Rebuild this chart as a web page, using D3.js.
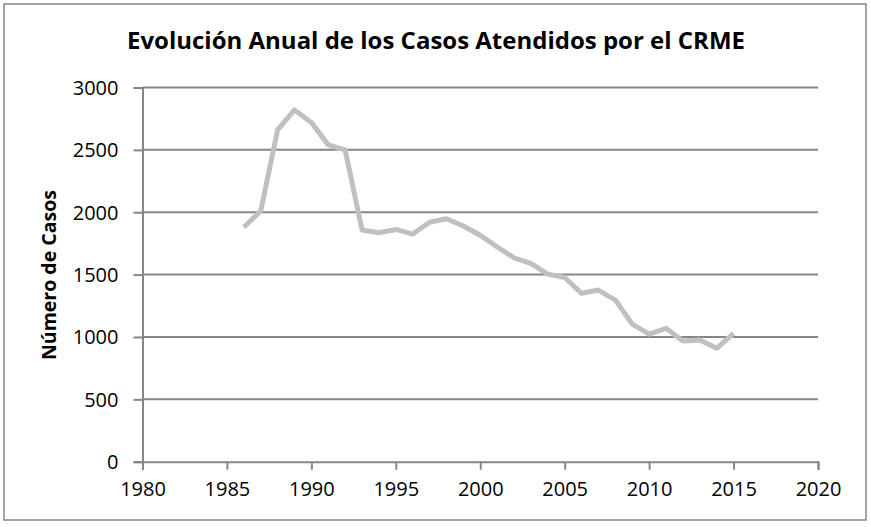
<!DOCTYPE html>
<html>
<head>
<meta charset="utf-8">
<script src="https://cdn.jsdelivr.net/npm/d3@7"></script>
<style>
  body { margin: 0; background: #fff; }
  svg { display: block; }
  text { font-family: "Open Sans", sans-serif; fill: #000; }
</style>
</head>
<body>
<svg id="chart" width="871" height="527"></svg>
<script>
const years = [1986, 1987, 1988, 1989, 1990, 1991, 1992, 1993, 1994, 1995,
  1996, 1997, 1998, 1999, 2000, 2001, 2002, 2003, 2004, 2005,
  2006, 2007, 2008, 2009, 2010, 2011, 2012, 2013, 2014, 2015];
const casos = [1880, 2010, 2660, 2820, 2720, 2540, 2500, 1857, 1835, 1862,
  1825, 1920, 1948, 1890, 1815, 1722, 1635, 1590, 1504, 1477,
  1350, 1376, 1296, 1103, 1022, 1069, 968, 975, 909, 1029];
const xTicks = [1980, 1985, 1990, 1995, 2000, 2005, 2010, 2015, 2020];
const yTicks = [0, 500, 1000, 1500, 2000, 2500, 3000];

const svg = d3.select("#chart");
const axisColor = "#868686";

// outer frame
svg.append("rect")
  .attr("x", 4).attr("y", 4)
  .attr("width", 862).attr("height", 516)
  .attr("fill", "#fff")
  .attr("stroke", axisColor)
  .attr("stroke-width", 1.5);

const m = { left: 142.5, right: 818, top: 87.5, bottom: 461.7 };
const x = d3.scaleLinear().domain([1980, 2020]).range([m.left, m.right]);
const y = d3.scaleLinear().domain([0, 3000]).range([m.bottom, m.top]);

// gridlines
svg.append("g")
  .selectAll("line")
  .data(yTicks.filter(d => d > 0))
  .join("line")
  .attr("x1", m.left).attr("x2", m.right)
  .attr("y1", d => y(d)).attr("y2", d => y(d))
  .attr("stroke", axisColor)
  .attr("stroke-width", 2);

// y axis
const yAxis = svg.append("g")
  .attr("transform", `translate(${m.left},0)`)
  .call(d3.axisLeft(y).tickValues(yTicks).tickSize(9).tickPadding(15).tickFormat(d3.format("d")));

// x axis
const xAxis = svg.append("g")
  .attr("transform", `translate(0,${m.bottom})`)
  .call(d3.axisBottom(x).tickValues(xTicks).tickSize(8).tickPadding(12).tickFormat(d3.format("d")));

[yAxis, xAxis].forEach(g => {
  g.select(".domain").attr("stroke", axisColor).attr("stroke-width", 2);
  g.selectAll(".tick line").attr("stroke", axisColor).attr("stroke-width", 2);
  g.selectAll(".tick text")
    .attr("font-family", "'Open Sans', sans-serif")
    .attr("font-size", 20)
    .attr("fill", "#000");
});
yAxis.selectAll(".tick text").attr("dy", "0.35em");
xAxis.selectAll(".tick text").attr("dy", "0.71em");

// data line
const line = d3.line()
  .x((d, i) => x(years[i]))
  .y(d => y(d));

svg.append("path")
  .datum(casos)
  .attr("d", line)
  .attr("fill", "none")
  .attr("stroke", "#c0c0c0")
  .attr("stroke-width", 5)
  .attr("stroke-linejoin", "round");

// title
svg.append("text")
  .attr("x", 436).attr("y", 49)
  .attr("text-anchor", "middle")
  .attr("font-size", 23)
  .attr("font-weight", "bold")
  .attr("textLength", 618)
  .attr("lengthAdjust", "spacingAndGlyphs")
  .text("Evolución Anual de los Casos Atendidos por el CRME");

// y axis title
svg.append("text")
  .attr("transform", "translate(56,275) rotate(-90)")
  .attr("text-anchor", "middle")
  .attr("font-size", 19.5)
  .attr("font-weight", "bold")
  .attr("textLength", 170)
  .attr("lengthAdjust", "spacingAndGlyphs")
  .text("Número de Casos");
</script>
</body>
</html>
